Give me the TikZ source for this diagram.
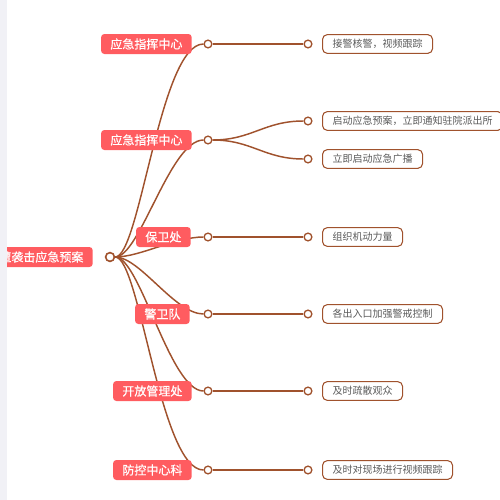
\documentclass[tikz,border=0pt]{standalone}
\usepackage{fontspec}
\setmainfont{Noto Sans CJK SC}
\newfontfamily\branchfont[FakeBold=0.6]{Noto Sans CJK SC}
\usepackage{xcolor}
\usetikzlibrary{backgrounds}
\definecolor{mindRed}{HTML}{FF5C60}
\definecolor{mindBrown}{HTML}{A0522D}
\definecolor{mindGrey}{HTML}{5A5A5A}
\definecolor{mindPanel}{HTML}{F1F1F6}
\tikzset{
    mind/root/.style={
        rectangle, rounded corners=2.5pt,
        fill=mindRed, text=white,
        font=\branchfont\fontsize{9pt}{11pt}\selectfont,
        inner xsep=7pt, inner ysep=0pt, minimum height=15pt
    },
    mind/branch/.style={
        mind/root, anchor=east
    },
    mind/leaf/.style={
        rectangle, rounded corners=3.5pt,
        draw=mindBrown, fill=white, line width=0.8pt,
        text=mindGrey, font=\fontsize{7.5pt}{9pt}\selectfont,
        inner xsep=7.5pt, inner ysep=0pt, minimum height=14pt,
        anchor=west
    },
    mind/dot/.style={
        circle, draw=mindBrown, fill=white, line width=1pt,
        inner sep=0pt, minimum size=5.8pt
    },
    mind/hub/.style={
        mind/dot, line width=1.2pt, minimum size=6.6pt
    },
    mind/line/.style={
        draw=mindBrown, line width=1.1pt
    }
}
\begin{document}
\begin{tikzpicture}[x=0.75pt,y=-0.75pt]
    \useasboundingbox (0,0) rectangle (500,500);

    \node[mind/root, anchor=east] (plan) at (93,257) {遭袭击应急预案};
    \node[mind/hub] (hub) at (110,257) {};

    % branch points
    \node[mind/dot] (p1) at (208,44) {};
    \node[mind/dot] (p2) at (208,140) {};
    \node[mind/dot] (p3) at (208,237) {};
    \node[mind/dot] (p4) at (208,314) {};
    \node[mind/dot] (p5) at (208,391) {};
    \node[mind/dot] (p6) at (208,470) {};

    % leaf points
    \node[mind/dot] (q1) at (308,44) {};
    \node[mind/dot] (q2a) at (308,121) {};
    \node[mind/dot] (q2b) at (308,159) {};
    \node[mind/dot] (q3) at (308,237) {};
    \node[mind/dot] (q4) at (308,314) {};
    \node[mind/dot] (q5) at (308,391) {};
    \node[mind/dot] (q6) at (308,470) {};

    \begin{scope}[on background layer]
        \draw[mind/line] (hub) .. controls (140,257) and (160,44) .. (p1);
        \draw[mind/line] (hub) .. controls (140,257) and (170,140) .. (p2);
        \draw[mind/line] (hub) .. controls (140,257) and (175,237) .. (p3);
        \draw[mind/line] (hub) .. controls (140,257) and (175,314) .. (p4);
        \draw[mind/line] (hub) .. controls (140,257) and (170,391) .. (p5);
        \draw[mind/line] (hub) .. controls (140,257) and (160,470) .. (p6);
        \draw[mind/line] (p1) -- (q1);
        \draw[mind/line] (p2) .. controls (252,140) and (264,121) .. (q2a);
        \draw[mind/line] (p2) .. controls (252,140) and (264,159) .. (q2b);
        \draw[mind/line] (p3) -- (q3);
        \draw[mind/line] (p4) -- (q4);
        \draw[mind/line] (p5) -- (q5);
        \draw[mind/line] (p6) -- (q6);
    \end{scope}

    \node[mind/branch] (zh1) at (192,44) {应急指挥中心};
    \node[mind/branch] (zh2) at (192,140) {应急指挥中心};
    \node[mind/branch] (bwc) at (191,237) {保卫处};
    \node[mind/branch] (jwd) at (190,314) {警卫队};
    \node[mind/branch] (kfg) at (192,391) {开放管理处};
    \node[mind/branch] (fkz) at (192,470) {防控中心科};

    \node[mind/leaf] (jj) at (322,44) {接警核警，视频跟踪};
    \node[mind/leaf] (qd) at (322,121) {启动应急预案，立即通知驻院派出所};
    \node[mind/leaf] (gb) at (322,159) {立即启动应急广播};
    \node[mind/leaf] (zz) at (322,237) {组织机动力量};
    \node[mind/leaf] (jk) at (322,314) {各出入口加强警戒控制};
    \node[mind/leaf] (ss) at (322,391) {及时疏散观众};
    \node[mind/leaf] (gz) at (322,470) {及时对现场进行视频跟踪};

    \fill[mindPanel] (0,0) rectangle (7,500);
\end{tikzpicture}
\end{document}
